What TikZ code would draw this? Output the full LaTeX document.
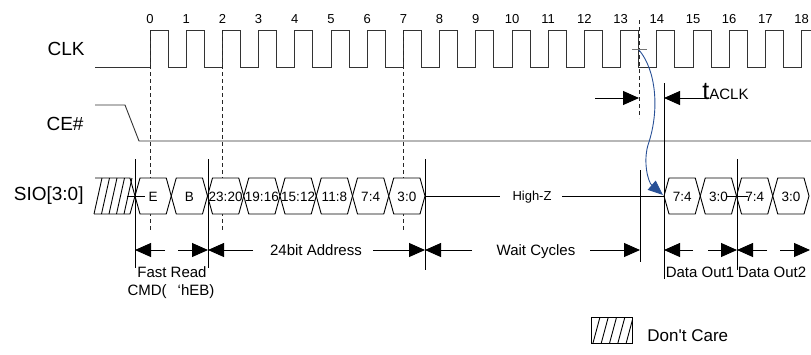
\documentclass[tikz,border=0pt]{standalone}
\usepackage{fontspec}
\setmainfont{Liberation Sans}
\newfontfamily\nomapsans{Liberation Sans}[Ligatures=TeXOff]
\usetikzlibrary{arrows.meta}
\definecolor{curveblue}{RGB}{40,80,150}
\begin{document}
\begin{tikzpicture}[x=1pt,y=-1pt,line width=0.9pt,
  wave/.style={draw=black!80,line width=0.9pt,line join=miter},
  guide/.style={draw=black,line width=0.9pt},
  dashguide/.style={draw=black!85,line width=0.9pt,dash pattern=on 4pt off 3pt},
  dimarrow/.style={draw=black,line width=0.9pt,-{Triangle[length=16pt,width=14pt]}},
  lbl/.style={font=\fontsize{19}{19}\selectfont,anchor=base east,inner sep=0pt},
  num/.style={font=\fontsize{13}{13}\selectfont,anchor=base,inner sep=0pt},
  boxtxt/.style={font=\fontsize{13.5}{13.5}\selectfont,anchor=base,inner sep=0pt},
  dimtxt/.style={font=\fontsize{15}{15}\selectfont,anchor=base,inner sep=0pt},
  busbox/.style={draw=black,line width=0.9pt,fill=white}]
\useasboundingbox (0,0) rectangle (811,354);

% signal names
\node[lbl] (clk) at (85,55) {CLK};
\node[lbl] (ce) at (84,130) {CE\#};
\node[lbl] (sio) at (84,200) {SIO[3:0]};

% clock
\draw[wave] (95,67.5) -- (150,67.5)
  \foreach \n in {0,...,17}{ -- ++(0,-37) -- ++(18.1,0) -- ++(0,37) -- ++(18.1,0)}
  -- ++(0,-37) -- (811,30.5);
\foreach \n in {0,...,18}
  \node[num] (n\n) at ({150+36.2*\n},23) {\n};

% CE#
\draw[wave] (95,105) -- (125,105) -- (139,141) -- (811,141);

% dashed guides
\draw[dashguide] (150,30) -- (150,230);
\draw[dashguide] (222,30) -- (222,230);
\draw[dashguide] (403,30) -- (403,230);
\draw[dashguide] (639,20) -- (639,118);

% don't care hatch before command
\draw[busbox] (95,178) -- (130,178) -- (135,196) -- (130,214) -- (94,214);
\foreach \k in {0,...,4}
  \draw (94+7.5*\k,214) -- (102+7.5*\k,178);

% command / address boxes
\foreach \k/\t in {0/E,1/B,2/23:20,3/19:16,4/15:12,5/11:8,6/7:4,7/3:0}{
  \draw[busbox] ({135+36.25*\k},196) -- ({135+36.25*\k+5},178)
    -- ({135+36.25*(\k+1)-5},178) -- ({135+36.25*(\k+1)},196)
    -- ({135+36.25*(\k+1)-5},214) -- ({135+36.25*\k+5},214) -- cycle;
  \node[boxtxt] (b\k) at ({135+36.25*(\k+0.5)},201) {\t};
}

% High-Z
\node[font=\fontsize{13}{13}\selectfont,anchor=base,inner sep=0pt] (hz) at (532,200.5) {High-Z};
\draw (425,196) -- (500,196);
\draw (562,196) -- (664,196);

% data boxes
\foreach \k/\t in {0/7:4,1/3:0,2/7:4,3/3:0}{
  \draw[busbox] ({664+36.25*\k},196) -- ({664+36.25*\k+5},178)
    -- ({664+36.25*(\k+1)-5},178) -- ({664+36.25*(\k+1)},196)
    -- ({664+36.25*(\k+1)-5},214) -- ({664+36.25*\k+5},214) -- cycle;
  \node[boxtxt] (d\k) at ({664+36.25*(\k+0.5)},201) {\t};
}

% small ticks
\draw (127,196) -- (145,196);
\draw (727,196) -- (748,196);
\draw[draw=black!55] (632,49) -- (647,49);

% solid vertical markers
\draw[guide] (135,159) -- (135,268);
\draw[guide] (208,159) -- (208,268);
\draw[guide] (425,159) -- (425,270);
\draw[guide] (640,170) -- (640,262);
\draw[guide] (664,83) -- (664,279);
\draw[guide] (737,159) -- (737,270);

% tACLK
\draw[dimarrow] (595,98) -- (639,98);
\draw[dimarrow] (707,98) -- (664,98);
\node[anchor=base west,inner sep=0pt] (tac) at (702,99.5)
  {{\fontsize{25}{25}\selectfont t}{\fontsize{15}{15}\selectfont ACLK}};

% blue curve
\draw[curveblue,line width=0.9pt,-{Triangle[length=15pt,width=12pt]}]
  (639,50) .. controls (656,70) and (660,110) .. (648,145)
  .. controls (643,162) and (648,182) .. (663,195);

% dimension arrows
\draw[dimarrow] (165,250) -- (135,250);
\draw[dimarrow] (178,250) -- (208,250);
\draw[dimarrow] (253,250) -- (208,250);
\draw[dimarrow] (373,250) -- (425,250);
\draw[dimarrow] (472,250) -- (425,250);
\draw[dimarrow] (590,250) -- (640,250);
\draw[dimarrow] (693,250) -- (664,250);
\draw[dimarrow] (708,250) -- (737,250);
\draw[dimarrow] (767,250) -- (737,250);
\draw[dimarrow] (780,250) -- (810,250);

\node[dimtxt] (fr1) at (172,277) {Fast Read};
\node[dimtxt] (fr2) at (171,295) {CMD(\hspace{11pt}‘hEB)};
\node[dimtxt] (addr) at (316,255.5) {24bit Address};
\node[dimtxt] (wait) at (536,255.5) {Wait Cycles};
\node[dimtxt] (do1) at (700,277) {Data Out1};
\node[dimtxt] (do2) at (772,277) {Data Out2};

% legend
\draw (591,317) rectangle (632,343);
\begin{scope}
  \clip (591,317) rectangle (632,343);
  \foreach \k in {0,...,4}
    \draw (593+8.3*\k,343) -- (600+8.3*\k,317);
\end{scope}
\node[font=\nomapsans\fontsize{17}{17}\selectfont,anchor=base west,inner sep=0pt] (dc) at (647,341) {Don't Care};
\end{tikzpicture}
\end{document}
